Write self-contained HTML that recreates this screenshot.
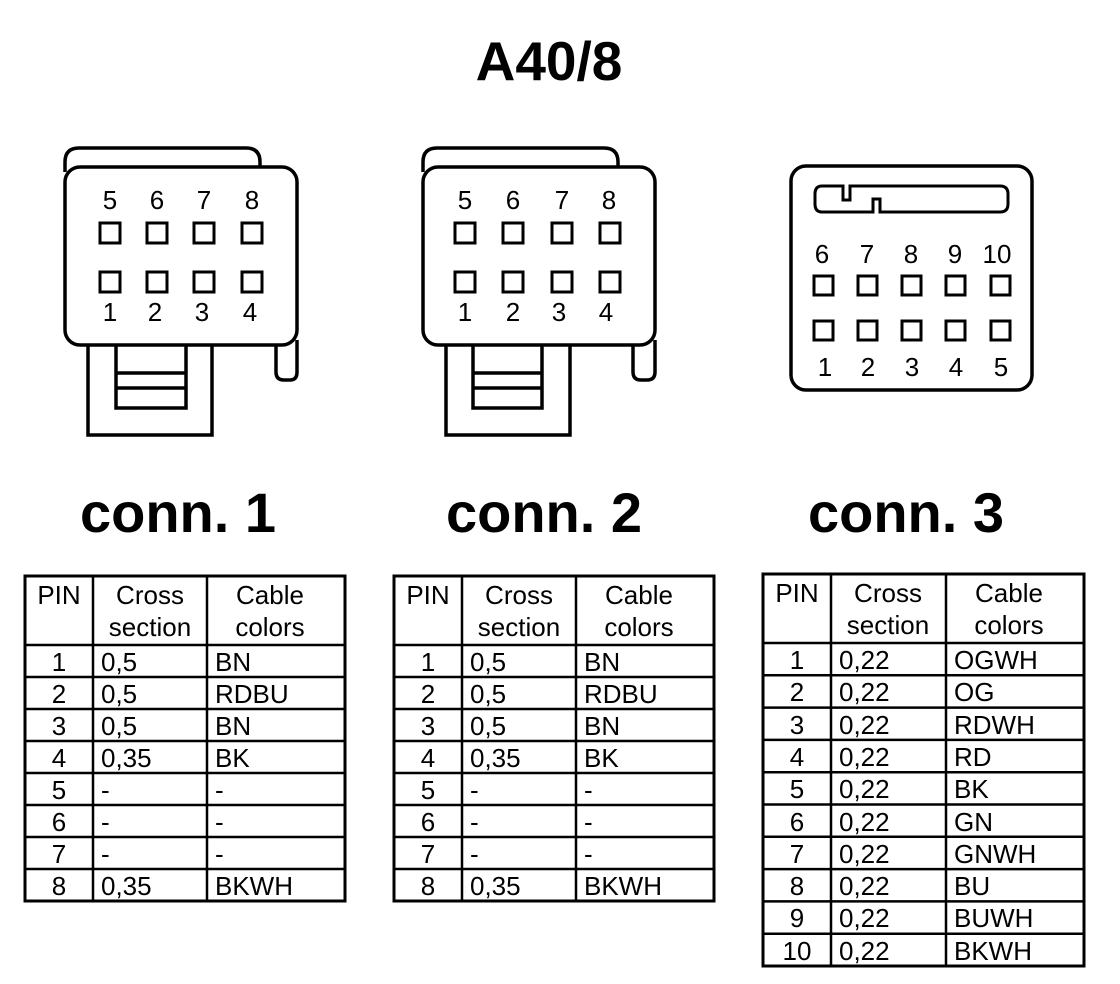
<!DOCTYPE html>
<html><head><meta charset="utf-8"><style>
html,body{margin:0;padding:0;background:#fff;}
svg{display:block;}
text{font-family:"Liberation Sans",Arial,sans-serif;fill:#000;}
</style></head><body>
<svg width="1120" height="984" viewBox="0 0 1120 984" xmlns="http://www.w3.org/2000/svg">
<text x="549" y="80" font-size="55" font-weight="bold" text-anchor="middle">A40/8</text>

<g fill="none" stroke="#000" stroke-width="3.5">
<!-- conn1 -->
<path d="M65,172 L65,162 Q65,148 79,148 L246,148 Q260,148 260,162 L260,168"/>
<rect x="65" y="167" width="232" height="178" rx="15" fill="#fff"/>
<path d="M276,345 L276,372 Q276,380 284,380 L290,380 Q297,380 297,372 L297,340"/>
<path d="M88,346 L88,435 L212,435 L212,346"/>
<path d="M116,346 L116,408 L186,408 L186,346 M116,373 L186,373 M116,388 L186,388"/>
<g stroke-width="3">
<rect x="100" y="223" width="20" height="20"/><rect x="147" y="223" width="20" height="20"/><rect x="194" y="223" width="20" height="20"/><rect x="242" y="223" width="20" height="20"/>
<rect x="100" y="272" width="20" height="20"/><rect x="147" y="272" width="20" height="20"/><rect x="194" y="272" width="20" height="20"/><rect x="242" y="272" width="20" height="20"/>
</g>
<!-- conn2 -->
<path d="M423,172 L423,162 Q423,148 437,148 L604,148 Q618,148 618,162 L618,168"/>
<rect x="423" y="167" width="232" height="178" rx="15" fill="#fff"/>
<path d="M633,345 L633,372 Q633,380 641,380 L647,380 Q655,380 655,372 L655,340"/>
<path d="M446,346 L446,435 L570,435 L570,346"/>
<path d="M473,346 L473,408 L542,408 L542,346 M473,373 L542,373 M473,388 L542,388"/>
<g stroke-width="3">
<rect x="455" y="223" width="20" height="20"/><rect x="503" y="223" width="20" height="20"/><rect x="552" y="223" width="20" height="20"/><rect x="600" y="223" width="20" height="20"/>
<rect x="455" y="272" width="20" height="20"/><rect x="503" y="272" width="20" height="20"/><rect x="552" y="272" width="20" height="20"/><rect x="600" y="272" width="20" height="20"/>
</g>
<!-- conn3 -->
<rect x="791" y="166" width="241" height="224" rx="15"/>
<path d="M822,186 L843,186 L843,200 L850,200 L850,186 L1000,186 Q1008,186 1008,194 L1008,204 Q1008,212 1000,212 L880,212 L880,199 L873,199 L873,212 L822,212 Q815,212 815,204 L815,194 Q815,186 822,186 Z" stroke-width="3"/>
<g stroke-width="3">
<rect x="814" y="276" width="19" height="19"/><rect x="858" y="276" width="19" height="19"/><rect x="902" y="276" width="19" height="19"/><rect x="946" y="276" width="19" height="19"/><rect x="991" y="276" width="19" height="19"/>
<rect x="814" y="321" width="19" height="19"/><rect x="858" y="321" width="19" height="19"/><rect x="902" y="321" width="19" height="19"/><rect x="946" y="321" width="19" height="19"/><rect x="991" y="321" width="19" height="19"/>
</g>
</g>

<g font-size="26" text-anchor="middle">
<text x="110" y="209">5</text><text x="157" y="209">6</text><text x="204" y="209">7</text><text x="252" y="209">8</text>
<text x="110" y="321">1</text><text x="155" y="321">2</text><text x="202" y="321">3</text><text x="250" y="321">4</text>
<text x="465" y="209">5</text><text x="513" y="209">6</text><text x="562" y="209">7</text><text x="609" y="209">8</text>
<text x="465" y="321">1</text><text x="513" y="321">2</text><text x="559" y="321">3</text><text x="606" y="321">4</text>
<text x="822" y="263">6</text><text x="867" y="263">7</text><text x="911" y="263">8</text><text x="955" y="263">9</text><text x="997" y="263">10</text>
<text x="825" y="376">1</text><text x="868" y="376">2</text><text x="912" y="376">3</text><text x="956" y="376">4</text><text x="1001" y="376">5</text>
</g>

<g font-size="56" font-weight="bold" text-anchor="middle">
<text x="178" y="532">conn. 1</text>
<text x="544" y="532">conn. 2</text>
<text x="906" y="532">conn. 3</text>
</g>

<g fill="none" stroke="#000">
<rect x="25" y="576" width="320" height="325" stroke-width="3"/>
<path stroke-width="2.5" d="M93,576V901M207,576V901M25,645H345M25,677H345M25,709H345M25,741H345M25,773H345M25,805H345M25,837H345M25,869H345"/>
<rect x="394" y="576" width="320" height="325" stroke-width="3"/>
<path stroke-width="2.5" d="M462,576V901M576,576V901M394,645H714M394,677H714M394,709H714M394,741H714M394,773H714M394,805H714M394,837H714M394,869H714"/>
<rect x="763" y="574" width="321" height="392" stroke-width="3"/>
<path stroke-width="2.5" d="M831,574V966M946,574V966M763,643H1084M763,675.3H1084M763,707.6H1084M763,739.9H1084M763,772.2H1084M763,804.5H1084M763,836.8H1084M763,869.1H1084M763,901.4H1084M763,933.7H1084"/>
</g>

<g font-size="26">
<g text-anchor="middle">
<text x="59" y="604">PIN</text><text x="150" y="604">Cross</text><text x="150" y="636">section</text><text x="270" y="604">Cable</text><text x="270" y="636">colors</text>
<text x="428" y="604">PIN</text><text x="519" y="604">Cross</text><text x="519" y="636">section</text><text x="639" y="604">Cable</text><text x="639" y="636">colors</text>
<text x="797" y="602">PIN</text><text x="888" y="602">Cross</text><text x="888" y="634">section</text><text x="1009" y="602">Cable</text><text x="1009" y="634">colors</text>
</g>
<g text-anchor="middle">
<text x="59" y="671">1</text><text x="59" y="703">2</text><text x="59" y="735">3</text><text x="59" y="767">4</text><text x="59" y="799">5</text><text x="59" y="831">6</text><text x="59" y="863">7</text><text x="59" y="895">8</text>
<text x="428" y="671">1</text><text x="428" y="703">2</text><text x="428" y="735">3</text><text x="428" y="767">4</text><text x="428" y="799">5</text><text x="428" y="831">6</text><text x="428" y="863">7</text><text x="428" y="895">8</text>
<text x="797" y="669">1</text><text x="797" y="701">2</text><text x="797" y="734">3</text><text x="797" y="766">4</text><text x="797" y="798">5</text><text x="797" y="831">6</text><text x="797" y="863">7</text><text x="797" y="895">8</text><text x="797" y="927">9</text><text x="797" y="960">10</text>
</g>
<text x="101" y="671">0,5</text><text x="101" y="703">0,5</text><text x="101" y="735">0,5</text><text x="101" y="767">0,35</text><text x="101" y="799">-</text><text x="101" y="831">-</text><text x="101" y="863">-</text><text x="101" y="895">0,35</text>
<text x="215" y="671">BN</text><text x="215" y="703">RDBU</text><text x="215" y="735">BN</text><text x="215" y="767">BK</text><text x="215" y="799">-</text><text x="215" y="831">-</text><text x="215" y="863">-</text><text x="215" y="895">BKWH</text>
<text x="470" y="671">0,5</text><text x="470" y="703">0,5</text><text x="470" y="735">0,5</text><text x="470" y="767">0,35</text><text x="470" y="799">-</text><text x="470" y="831">-</text><text x="470" y="863">-</text><text x="470" y="895">0,35</text>
<text x="584" y="671">BN</text><text x="584" y="703">RDBU</text><text x="584" y="735">BN</text><text x="584" y="767">BK</text><text x="584" y="799">-</text><text x="584" y="831">-</text><text x="584" y="863">-</text><text x="584" y="895">BKWH</text>
<text x="839" y="669">0,22</text><text x="839" y="701">0,22</text><text x="839" y="734">0,22</text><text x="839" y="766">0,22</text><text x="839" y="798">0,22</text><text x="839" y="831">0,22</text><text x="839" y="863">0,22</text><text x="839" y="895">0,22</text><text x="839" y="927">0,22</text><text x="839" y="960">0,22</text>
<text x="954" y="669">OGWH</text><text x="954" y="701">OG</text><text x="954" y="734">RDWH</text><text x="954" y="766">RD</text><text x="954" y="798">BK</text><text x="954" y="831">GN</text><text x="954" y="863">GNWH</text><text x="954" y="895">BU</text><text x="954" y="927">BUWH</text><text x="954" y="960">BKWH</text>
</g>
</svg>
</body></html>
